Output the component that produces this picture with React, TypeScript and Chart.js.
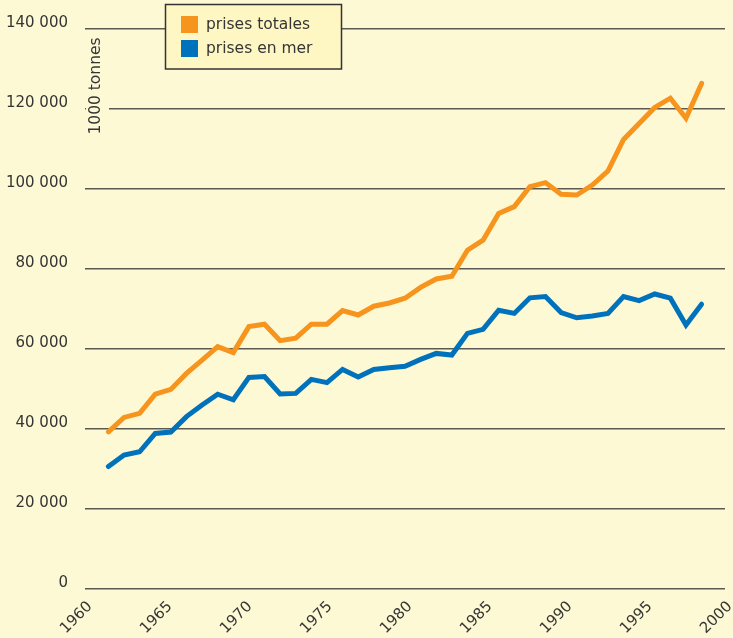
import React, { useEffect, useRef } from 'react';
import { Chart, registerables } from 'chart.js';

Chart.register(...registerables);

const years = [
  1961, 1962, 1963, 1964, 1965, 1966, 1967, 1968, 1969, 1970,
  1971, 1972, 1973, 1974, 1975, 1976, 1977, 1978, 1979, 1980,
  1981, 1982, 1983, 1984, 1985, 1986, 1987, 1988, 1989, 1990,
  1991, 1992, 1993, 1994, 1995, 1996, 1997, 1998, 1999,
];

const prisesTotales = [
  39300, 42900, 43900, 48700, 49900, 53900, 57200, 60600, 59100, 65600,
  66200, 62100, 62700, 66200, 66200, 69600, 68500, 70700, 71500, 72700,
  75400, 77500, 78200, 84700, 87200, 93900, 95600, 100600, 101600, 98700,
  98500, 101000, 104500, 112400, 116400, 120400, 122700, 117700, 126400,
];

const prisesEnMer = [
  30600, 33500, 34300, 38900, 39250, 43100, 46000, 48700, 47300, 52900,
  53100, 48750, 48900, 52400, 51600, 54900, 53000, 54900, 55300, 55700,
  57400, 58900, 58500, 63900, 64900, 69700, 68900, 72800, 73100, 69100,
  67800, 68250, 68900, 73100, 72100, 73750, 72700, 66000, 71200,
];

const seriesLabels = ['prises totales', 'prises en mer'];
const seriesColors = ['#F7941D', '#0072BC'];
const yTickValues = [0, 20000, 40000, 60000, 80000, 100000, 120000, 140000];
const xTickValues = [1960, 1965, 1970, 1975, 1980, 1985, 1990, 1995, 2000];
const yAxisTitle = '1000 tonnes';

const BG = '#FEF9D5';
const TEXT = '#353535';
const FONT = '"DejaVu Sans", Verdana, sans-serif';

const fmt = (v: number) => String(v).replace(/\B(?=(\d{3})+(?!\d))/g, ' ');

const yTitlePlugin = {
  id: 'yTitleInside',
  beforeDatasetsDraw(chart: any) {
    const ctx = chart.ctx;
    const area = chart.chartArea;
    ctx.save();
    ctx.fillStyle = BG;
    ctx.fillRect(area.left + 1, 36, 23, 100);
    ctx.translate(area.left + 11, 86);
    ctx.rotate(-Math.PI / 2);
    ctx.fillStyle = TEXT;
    ctx.font = '15.5px ' + FONT;
    ctx.textAlign = 'center';
    ctx.textBaseline = 'middle';
    ctx.fillText(yAxisTitle, 0, 0);
    ctx.restore();
  },
};

const legendPlugin = {
  id: 'boxedLegend',
  afterDraw(chart: any) {
    const ctx = chart.ctx;
    ctx.save();
    const bx = 165.5, by = 4.5, bw = 176, bh = 64.5;
    ctx.fillStyle = '#FFF7C3';
    ctx.fillRect(bx, by, bw, bh);
    ctx.strokeStyle = '#333333';
    ctx.lineWidth = 1.5;
    ctx.strokeRect(bx, by, bw, bh);
    ctx.font = '15.5px ' + FONT;
    ctx.textBaseline = 'middle';
    ctx.textAlign = 'left';
    chart.data.datasets.forEach((ds: any, i: number) => {
      const top = 16 + i * 24;
      ctx.fillStyle = ds.borderColor;
      ctx.fillRect(181, top, 17, 17);
      ctx.fillStyle = TEXT;
      ctx.fillText(ds.label, 206, top + 8.5);
    });
    ctx.restore();
  },
};

export default function App() {
  const ref = useRef<HTMLCanvasElement | null>(null);

  useEffect(() => {
    if (!ref.current) return;
    const chart = new Chart(ref.current, {
      type: 'line',
      data: {
        datasets: [prisesTotales, prisesEnMer].map((vals, i) => ({
          label: seriesLabels[i],
          data: years.map((y, j) => ({ x: y, y: vals[j] })),
          borderColor: seriesColors[i],
          backgroundColor: seriesColors[i],
          borderWidth: 5,
          pointRadius: 0,
          tension: 0,
          fill: false,
          borderCapStyle: 'round',
          xAxisID: 'x',
          yAxisID: 'y',
        })),
      },
      options: {
        responsive: false,
        animation: false,
        layout: { padding: { top: 29, right: 8, left: 0, bottom: 0 } },
        plugins: {
          legend: { display: false },
          tooltip: { enabled: false },
          title: { display: false },
        },
        scales: {
          x: {
            type: 'linear',
            display: false,
            min: 1959.5,
            max: 2000.5,
          },
          xl: {
            type: 'linear',
            position: 'bottom',
            min: 1959.6875,
            max: 1999.6875,
            afterBuildTicks: (scale: any) => {
              scale.ticks = xTickValues.map((v) => ({ value: v }));
            },
            afterFit: (scale: any) => {
              scale.height = 49;
              scale.paddingLeft = 0;
              scale.paddingRight = 0;
            },
            grid: { display: false },
            border: { display: false },
            ticks: {
              autoSkip: false,
              minRotation: 45,
              maxRotation: 45,
              padding: 1,
              color: TEXT,
              font: { family: FONT, size: 15 },
              callback: (v: any) => String(v),
            },
          },
          y: {
            type: 'linear',
            position: 'left',
            min: 0,
            max: 140000,
            afterBuildTicks: (scale: any) => {
              scale.ticks = yTickValues.map((v) => ({ value: v }));
            },
            afterFit: (scale: any) => {
              scale.width = 85;
            },
            grid: {
              color: '#5a5a52',
              lineWidth: 1.5,
              drawTicks: false,
            },
            border: { display: false },
            ticks: {
              padding: 17,
              color: TEXT,
              font: { family: FONT, size: 15, lineHeight: 0.8 },
              callback: (v: any) => [fmt(Number(v)), ''],
            },
          },
        },
      } as any,
      plugins: [yTitlePlugin, legendPlugin],
    });
    return () => chart.destroy();
  }, []);

  return (
    <div
      style={{
        position: 'absolute',
        left: 0,
        top: 0,
        width: 733,
        height: 638,
        background: BG,
      }}
    >
      <canvas ref={ref} width={733} height={638} style={{ display: 'block' }} />
    </div>
  );
}
